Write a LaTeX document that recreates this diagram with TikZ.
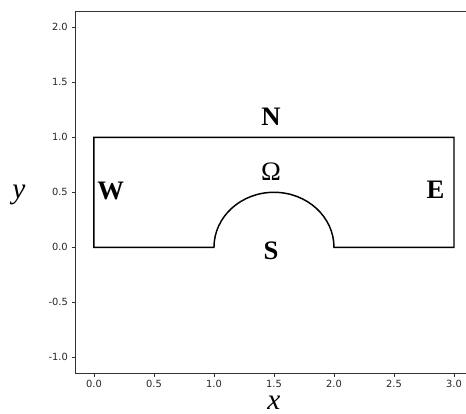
\documentclass[tikz,border=0pt]{standalone}
\usepackage{fontspec}
\setmainfont{Liberation Serif}
\newfontfamily\tickfont{DejaVu Sans}
\usepackage{tikz}
\usetikzlibrary{positioning}
\tikzset{
	boundary/.style={draw=black, line width=1.1pt, line join=miter},
	spine/.style   ={draw=black!80, line width=0.6pt},
	tickmark/.style={draw=black!80, line width=0.6pt},
	ticklbl/.style ={font=\tickfont\fontsize{7.4}{8}\selectfont, text=black!85, inner sep=0pt},
	sidelbl/.style ={font=\fontsize{20}{22}\selectfont\bfseries, inner sep=0pt},
	domlbl/.style  ={font=\fontsize{20}{22}\selectfont, inner sep=0pt},
	axlbl/.style   ={font=\fontsize{22}{24}\selectfont\itshape, inner sep=0pt},
}

\begin{document}
\begin{tikzpicture}[x=90pt, y=82.5pt]
	\useasboundingbox (-0.783,-1.515) rectangle (3.1,2.248);
	% axes frame (right side cut off)
	\draw[spine] (3.1,2.144) -- (-0.156,2.144) -- (-0.156,-1.145) -- (3.1,-1.145);
	% ticks on x
	\foreach \x [count=\i] in {0.0,0.5,1.0,1.5,2.0,2.5,3.0}{
		\draw[tickmark] (\x,-1.145) -- ++(0,-2.6pt);
		\node[ticklbl, anchor=north, yshift=-5.3pt] (xtick\i) at (\x,-1.145) {\x};
	}
	% ticks on y
	\foreach \y [count=\i] in {-1.0,-0.5,0.0,0.5,1.0,1.5,2.0}{
		\draw[tickmark] (-0.156,\y) -- ++(-2.6pt,0);
		\node[ticklbl, anchor=east, xshift=-5.4pt] (ytick\i) at (-0.156,\y) {\y};
	}
	% domain with the half-disc cut out
	\draw[boundary] (0,0) -- (1,0) arc[start angle=180, end angle=0, x radius=0.5, y radius=0.5]
		-- (3,0) -- (3,1) -- (0,1) -- cycle;
	% boundary and domain labels
	\node[sidelbl] (north) at (1.475,1.19) {N};
	\node[domlbl]  (omega) at (1.475,0.69) {Ω};
	\node[sidelbl] (south) at (1.475,-0.03) {S};
	\node[sidelbl] (west)  at (0.14,0.51) {W};
	\node[sidelbl] (east)  at (2.845,0.52) {E};
	% axis labels
	\node[axlbl] (xlabel) at (1.5,-1.41) {x};
	\node[axlbl] (ylabel) at (-0.625,0.48) {y};
\end{tikzpicture}
\end{document}
